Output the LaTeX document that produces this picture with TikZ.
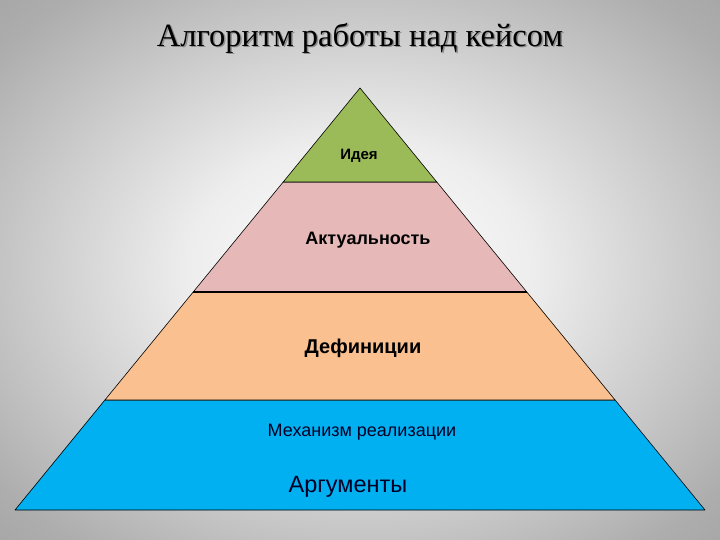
\documentclass[tikz,border=0pt]{standalone}
\usepackage{fontspec}
\setmainfont{Liberation Serif}
\newfontfamily\labelfont{Liberation Sans}
\usepackage{tikz}
\definecolor{ideagreen}{HTML}{9BBB59}
\definecolor{actpink}{HTML}{E6B9B8}
\definecolor{defpeach}{HTML}{FAC090}
\definecolor{argblue}{HTML}{00B0F0}
\pgfdeclareradialshading{slidebg}{\pgfpoint{0bp}{0bp}}{color(0bp)=(white); color(12bp)=(black!7); color(32bp)=(black!32); color(48bp)=(black!43); color(60bp)=(black!45)}
\tikzstyle{layer} = [draw=black, line width=0.6pt, line join=round]
\tikzstyle{lbl} = [font=\labelfont, inner sep=0pt]

\begin{document}
\begin{tikzpicture}[x=1pt,y=-1pt]
			\useasboundingbox (0,0) rectangle (720,540);
			\shade[shading=slidebg] (0,0) rectangle (720,540);
			\node[color=black!45, font=\fontsize{32.5}{38}\selectfont] (titleshadow) at (361.5,39.5) {Алгоритм работы над кейсом};
			\node[font=\fontsize{32.5}{38}\selectfont] (title) at (360,38) {Алгоритм работы над кейсом};
			% pyramid layers
			\coordinate (apex) at (360,88);
			\coordinate (bl) at (15,510);
			\coordinate (br) at (705,510);
			\draw[layer, fill=argblue] (104.9,400) -- (615.1,400) -- (br) -- (bl) -- cycle;
			\draw[layer, fill=defpeach] (193.2,292) -- (526.8,292) -- (615.1,400) -- (104.9,400) -- cycle;
			\draw[layer, fill=actpink] (283.2,182) -- (436.8,182) -- (526.8,292) -- (193.2,292) -- cycle;
			\draw[layer, fill=ideagreen] (apex) -- (436.8,182) -- (283.2,182) -- cycle;
			\draw[line width=1.2pt] (193.2,292) -- (526.8,292);
			% labels
			\node[lbl, font=\labelfont\bfseries\fontsize{15}{18}\selectfont] (idea) at (359,156) {Идея};
			\node[lbl, font=\labelfont\bfseries\fontsize{18}{21}\selectfont] (actual) at (368,240) {Актуальность};
			\node[lbl, font=\labelfont\bfseries\fontsize{20}{24}\selectfont] (defin) at (363,348) {Дефиниции};
			\node[lbl, color=black!85!blue, font=\labelfont\fontsize{18}{21}\selectfont] (mech) at (362,432) {Механизм реализации};
			\node[lbl, color=black!85!blue, font=\labelfont\fontsize{23.5}{28}\selectfont] (args) at (348,487) {Аргументы};
		\end{tikzpicture}
\end{document}
